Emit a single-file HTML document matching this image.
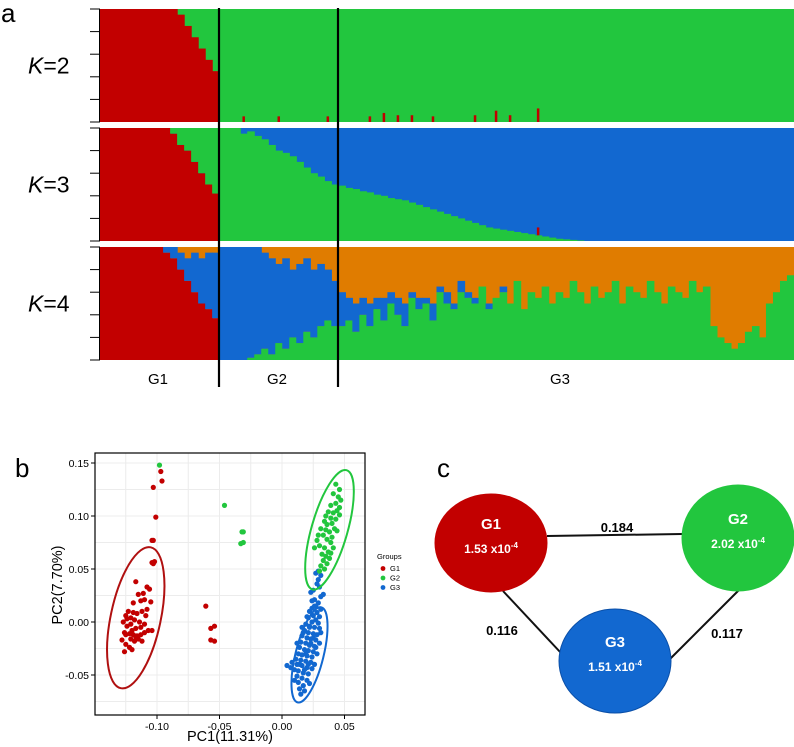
<!DOCTYPE html>
<html><head><meta charset="utf-8">
<style>
html,body{margin:0;padding:0;background:#fff;}
svg{display:block;font-family:"Liberation Sans",Arial,sans-serif;}
</style></head>
<body>
<svg id="fig" width="794" height="747" viewBox="0 0 794 747" xmlns="http://www.w3.org/2000/svg">
<g id="structure"></g>
<g id="pca"></g>
<g id="net"></g>
</svg>
<script>
// ---------- Panel a data (ancestry fractions per bar) ----------
const k2RedG1 = [1,1,1,1,1,1,1,1,1,1,1,0.95,0.85,0.75,0.65,0.55,0.45];
const k2RedG2 = [0,0,0,0.05,0,0,0,0,0.05,0,0,0,0,0,0,0.05,0];
const k2RedG3 = [0,0,0,0,0.05, 0,0.08,0,0.06,0, 0.06,0,0,0.05,0, 0,0,0,0,0.06, 0,0,0.1,0,0.06, 0,0,0,0.12,0, 0,0,0,0,0, 0,0,0,0,0, 0,0,0,0,0, 0,0,0,0,0, 0,0,0,0,0, 0,0,0,0,0, 0,0,0,0,0];
const k2Red = [...k2RedG1, ...k2RedG2, ...k2RedG3];

const k3RedG1 = [1,1,1,1,1,1,1,1,1,1,0.95,0.85,0.8,0.7,0.6,0.5,0.42];
const k3Red = [...k3RedG1, ...k2RedG2, ...k2RedG3];
const k3GreenG1 = [0,0,0,0,0,0,0,0,0,0,0.05,0.15,0.2,0.3,0.4,0.5,0.58];
const k3GreenG2 = [1,1,1,0.95,0.97,0.93,0.9,0.85,0.8,0.78,0.75,0.7,0.65,0.6,0.57,0.53,0.5];
const k3GreenG3 = [0.49,0.47,0.46,0.44,0.43, 0.41,0.4,0.38,0.37,0.36, 0.34,0.32,0.3,0.28,0.26, 0.24,0.22,0.2,0.18,0.16, 0.14,0.12,0.11,0.1,0.09, 0.08,0.07,0.06,0.05,0.04, 0.03,0.02,0.015,0.01,0.005, 0,0,0,0,0, 0,0,0,0,0, 0,0,0,0,0, 0,0,0,0,0, 0,0,0,0,0, 0,0,0,0,0];
const k3Green = [...k3GreenG1, ...k3GreenG2, ...k3GreenG3];

const k4RedG1 = [1,1,1,1,1,1,1,1,1,0.95,0.9,0.8,0.7,0.6,0.5,0.45,0.37];
const k4Red = [...k4RedG1, ...k2RedG2, ...k2RedG3];
const k4GreenG2 = [0,0,0,0,0.02,0.05,0.1,0.05,0.15,0.1,0.2,0.15,0.25,0.2,0.3,0.35,0.3];
const k4GreenG3 = [0.30,0.35,0.25,0.40,0.30, 0.45,0.35,0.50,0.40,0.30, 0.55,0.45,0.50,0.35,0.60, 0.50,0.45,0.60,0.55,0.50, 0.65,0.45,0.55,0.60,0.50, 0.70,0.45,0.60,0.55,0.65, 0.50,0.60,0.55,0.70,0.60, 0.50,0.65,0.55,0.60,0.70, 0.50,0.65,0.60,0.55,0.70, 0.60,0.50,0.65,0.60,0.55, 0.70,0.60,0.65,0.30,0.20, 0.15,0.10,0.15,0.25,0.30, 0.20,0.50,0.60,0.70,0.75];
const k4Green = [...k3GreenG1.map(()=>0), ...k4GreenG2, ...k4GreenG3];
const k4OrangeG1 = [0,0,0,0,0,0,0,0,0,0,0,0.05,0.1,0.05,0.1,0.05,0.05];
const k4OrangeG2 = [0,0,0,0,0,0,0.05,0.1,0.15,0.1,0.2,0.15,0.1,0.2,0.15,0.2,0.3];
const k4BlueG3 = [0.30,0.20,0.25,0.15,0.20, 0.10,0.20,0.10,0.15,0.20, 0.05,0.10,0.05,0.15,0.05, 0.10,0.05,0.10,0.05,0.05, 0,0.05,0,0.05,0, 0,0,0,0,0, 0,0,0,0,0, 0,0,0,0,0, 0,0,0,0,0, 0,0,0,0,0, 0,0,0,0,0, 0,0,0,0,0, 0,0,0,0,0];
const groupLabels = ["G1","G2","G3"];
const kLabels = ["2","3","4"];

// ---------- Panel b data ----------
const g1x = [-0.097,-0.096,-0.103,-0.101,-0.104,-0.103,-0.104,-0.102,-0.103,-0.061,-0.057,-0.054,-0.057,-0.054,-0.117,-0.108,-0.106,-0.111,-0.115,-0.11,-0.105,-0.108,-0.112,-0.116,-0.119,-0.123,-0.125,-0.121,-0.118,-0.114,-0.110,-0.107,-0.104,-0.113,-0.117,-0.121,-0.124,-0.126,-0.122,-0.119,-0.116,-0.113,-0.110,-0.115,-0.118,-0.121,-0.128,-0.125,-0.122,-0.126,-0.120,-0.117,-0.112,-0.124,-0.127,-0.119,-0.113,-0.109,-0.120,-0.125];
const g1y = [0.142,0.133,0.127,0.099,0.077,0.077,0.056,0.057,0.055,0.015,-0.006,-0.004,-0.017,-0.018,0.038,0.033,0.031,0.027,0.026,0.021,0.019,0.012,0.010,0.008,0.009,0.010,0.006,0.004,0.002,0.0,-0.002,-0.008,-0.008,-0.005,-0.006,-0.002,-0.004,-0.01,-0.011,-0.012,-0.013,-0.012,-0.010,-0.016,-0.018,-0.016,-0.017,-0.021,-0.024,-0.028,-0.026,-0.014,-0.018,0.003,0.0,0.018,0.020,0.006,-0.008,-0.012];
const g2x = [-0.098,-0.046,-0.032,-0.031,-0.033,-0.031,0.043,0.046,0.041,0.045,0.047,0.043,0.039,0.046,0.044,0.041,0.037,0.035,0.039,0.043,0.046,0.040,0.036,0.034,0.042,0.038,0.035,0.044,0.040,0.036,0.033,0.029,0.039,0.034,0.030,0.037,0.035,0.039,0.033,0.036,0.031,0.034,0.030,0.038,0.026,0.031,0.028,0.041,0.032];
const g2y = [0.148,0.110,0.085,0.085,0.074,0.075,0.13,0.125,0.121,0.118,0.115,0.112,0.110,0.108,0.105,0.103,0.104,0.100,0.098,0.097,0.101,0.093,0.092,0.095,0.088,0.085,0.087,0.086,0.080,0.078,0.082,0.082,0.075,0.070,0.072,0.066,0.062,0.065,0.058,0.055,0.053,0.050,0.048,0.060,0.070,0.088,0.077,0.070,0.064];
const g3x = [0.029,0.027,0.031,0.028,0.030,0.023,0.033,0.031,0.026,0.029,0.027,0.024,0.031,0.022,0.028,0.025,0.030,0.021,0.027,0.024,0.029,0.019,0.022,0.026,0.030,0.018,0.021,0.025,0.028,0.016,0.020,0.023,0.027,0.015,0.019,0.022,0.026,0.014,0.018,0.021,0.025,0.013,0.016,0.020,0.024,0.011,0.015,0.019,0.023,0.012,0.016,0.020,0.024,0.004,0.007,0.013,0.017,0.021,0.012,0.016,0.020,0.013,0.017,0.014,0.018,0.015,0.010,0.022,0.026,0.028,0.027,0.017,0.023,0.019,0.014,0.021,0.018,0.025,0.022,0.020,0.026,0.025,0.029,0.010,0.008,0.012,0.030,0.031,0.016,0.024];
const g3y = [0.048,0.046,0.044,0.036,0.033,0.028,0.026,0.024,0.021,0.018,0.015,0.013,0.012,0.010,0.009,0.006,0.005,0.004,0.002,0.000,-0.001,-0.002,-0.004,-0.005,-0.006,-0.008,-0.010,-0.011,-0.012,-0.013,-0.015,-0.016,-0.017,-0.019,-0.020,-0.022,-0.023,-0.024,-0.026,-0.027,-0.028,-0.030,-0.031,-0.032,-0.033,-0.035,-0.036,-0.037,-0.038,-0.040,-0.041,-0.043,-0.044,-0.041,-0.043,-0.046,-0.048,-0.049,-0.051,-0.053,-0.055,-0.057,-0.060,-0.063,-0.065,-0.068,-0.055,-0.058,-0.040,-0.030,-0.024,-0.010,-0.020,-0.030,-0.040,-0.040,-0.045,-0.015,-0.005,0.005,0.015,0.030,0.040,-0.045,-0.038,-0.020,-0.020,-0.010,-0.005,0.020];
const xTicks = [-0.10,-0.05,0.00,0.05];
const xTickLabels = ["-0.10","-0.05","0.00","0.05"];
const yTicks = [-0.05,0.00,0.05,0.10,0.15];
const yTickLabels = ["-0.05","0.00","0.05","0.10","0.15"];
const ellipseCx = [-0.117,0.038,0.022];
const ellipseCy = [0.004,0.087,-0.031];

// ---------- Panel c data ----------
const nodeNames = ["G1","G2","G3"];
const nodeValues = ["1.53","2.02","1.51"];
const edgeValues = ["0.184","0.116","0.117"];

const NS = "http://www.w3.org/2000/svg";
function mk(parent, tag, attrs, text){
  const e = document.createElementNS(NS, tag);
  for (const k in attrs) e.setAttribute(k, attrs[k]);
  if (text !== undefined) e.textContent = text;
  parent.appendChild(e);
  return e;
}
const RED="#c20000", GREEN="#22c63e", BLUE="#1268d0", ORANGE="#e07c00";

// ===== Panel a =====
const sa = document.getElementById('structure');
const L = 100, R = 794;
const panels = [{top:9,bot:122},{top:128,bot:241},{top:247,bot:360}];
const n = k2Red.length;
const bw = (R-L)/n;
function xb(i){ return L + i*bw; }
function drawStack(pi, comps){
  const p = panels[pi], h = p.bot-p.top;
  for (let i=0;i<n;i++){
    let y = p.bot;
    for (const [arr,col] of comps){
      const f = Math.max(0, arr[i]);
      if (f<=0) continue;
      const hh = f*h;
      const thin = f < 0.2 && col===RED;
      const w = thin ? 2.5 : bw+0.6;
      const xx = thin ? xb(i)+bw/2-1.25 : xb(i);
      const r = mk(sa,'rect',{x:xx.toFixed(2),y:(y-hh).toFixed(2),width:w.toFixed(2),height:hh.toFixed(2),fill:col});
      
      
      if (!thin) y -= hh;
    }
  }
}
mk(sa,'rect',{x:L,y:9,width:R-L,height:113,fill:GREEN,});
mk(sa,'rect',{x:L,y:128,width:R-L,height:113,fill:BLUE,});
mk(sa,'rect',{x:L,y:247,width:R-L,height:113,fill:ORANGE,});
drawStack(0, [[k2Red,RED]]);
drawStack(1, [[k3Red,RED],[k3Green.map((g,i)=>Math.min(g,1-k3Red[i])),GREEN]]);
const k4Blue = k4Red.map((r,i)=>{
  if (i<17) return 1-r-k4OrangeG1[i];
  if (i<34) return 1-k4GreenG2[i-17]-k4OrangeG2[i-17];
  return k4BlueG3[i-34];
});
drawStack(2, [[k4Red,RED],[k4Green,GREEN],[k4Blue,BLUE]]);
panels.forEach((p,pi)=>{
  for (let t=0;t<=5;t++){
    const y = p.top + t*(p.bot-p.top)/5;
    mk(sa,'line',{x1:90,x2:100,y1:y,y2:y,stroke:'#000','stroke-width':1,});
  }
  mk(sa,'line',{x1:99.5,x2:99.5,y1:p.top,y2:p.bot,stroke:'#000','stroke-width':1,});
  const t = mk(sa,'text',{x:28,y:(p.top+p.bot)/2+8,'font-size':23,fill:'#000',});
  mk(t,'tspan',{'font-style':'italic'},'K');
  mk(t,'tspan',{},'='+kLabels[pi]);
});
[219,338].forEach(x=>mk(sa,'line',{x1:x,x2:x,y1:8,y2:387,stroke:'#000','stroke-width':2.2,}));
[158,277,560].forEach((x,i)=>mk(sa,'text',{x:x,y:384,'font-size':15,'text-anchor':'middle',},groupLabels[i]));
mk(sa,'text',{x:1,y:22,'font-size':26,},'a');

// ===== Panel b =====
const sb = document.getElementById('pca');
const PX0=95, PX1=365, PY0=453, PY1=715;
function sx(v){ return 282 + v*1250; }
function sy(v){ return 622 - v*1060; }
mk(sb,'rect',{x:PX0,y:PY0,width:PX1-PX0,height:PY1-PY0,fill:'#fff',});
for (let v=-0.15; v<=0.071; v+=0.025){
  const x=sx(v); if (x<PX0||x>PX1) continue;
  mk(sb,'line',{x1:x,x2:x,y1:PY0,y2:PY1,stroke:'#ececec','stroke-width':1,});
}
for (let v=-0.1; v<=0.161; v+=0.025){
  const y=sy(v); if (y<PY0||y>PY1) continue;
  mk(sb,'line',{x1:PX0,x2:PX1,y1:y,y2:y,stroke:'#ececec','stroke-width':1,});
}
function pts(xs,ys,col,name){
  xs.forEach((x,i)=>{
    const c = mk(sb,'circle',{cx:sx(x).toFixed(1),cy:sy(ys[i]).toFixed(1),r:2.6,fill:col});
    
    
  });
}
pts(g3x,g3y,BLUE,'pca-point-g3');
pts(g1x,g1y,RED,'pca-point-g1');
pts(g2x,g2y,GREEN,'pca-point-g2');
const ellRx=[25,18,14], ellRy=[72,62,49], ellRot=[12,16,14], ellCol=["#b01010",GREEN,BLUE];
ellipseCx.forEach((cx,i)=>{
  const X=sx(cx), Y=sy(ellipseCy[i]);
  mk(sb,'ellipse',{cx:X,cy:Y,rx:ellRx[i],ry:ellRy[i],transform:`rotate(${ellRot[i]} ${X} ${Y})`,fill:'none',stroke:ellCol[i],'stroke-width':2,});
});
mk(sb,'rect',{x:PX0,y:PY0,width:PX1-PX0,height:PY1-PY0,fill:'none',stroke:'#000','stroke-width':1.2,});
xTicks.forEach((v,i)=>{
  mk(sb,'line',{x1:sx(v),x2:sx(v),y1:PY1,y2:PY1+4,stroke:'#000',});
  mk(sb,'text',{x:sx(v),y:PY1+15,'font-size':10.5,'text-anchor':'middle',},xTickLabels[i]);
});
yTicks.forEach((v,i)=>{
  mk(sb,'line',{x1:PX0-4,x2:PX0,y1:sy(v),y2:sy(v),stroke:'#000',});
  mk(sb,'text',{x:PX0-6,y:sy(v)+4,'font-size':10.5,'text-anchor':'end',},yTickLabels[i]);
});
mk(sb,'text',{x:230,y:741,'font-size':14.5,'text-anchor':'middle',},'PC1(11.31%)');
mk(sb,'text',{x:62,y:585,'font-size':14.5,'text-anchor':'middle',transform:'rotate(-90 62 585)',},'PC2(7.70%)');
mk(sb,'text',{x:377,y:559,'font-size':7.5,},'Groups');
[RED,GREEN,BLUE].forEach((c,i)=>{
  const y = 571+i*9.5;
  mk(sb,'circle',{cx:383,cy:y-2.5,r:2.4,fill:c,});
  mk(sb,'text',{x:390,y:y,'font-size':7.5,},nodeNames[i]);
});
mk(sb,'text',{x:15,y:477,'font-size':26,},'b');

// ===== Panel c =====
const sc = document.getElementById('net');
const ncx=[491,738,615], ncy=[543,538,661], nrx=56, nry=[49,53,52], ncol=[RED,GREEN,BLUE];
mk(sc,'line',{x1:547,y1:536,x2:682,y2:534,stroke:'#111','stroke-width':2,});
mk(sc,'line',{x1:503,y1:591,x2:561,y2:653,stroke:'#111','stroke-width':2,});
mk(sc,'line',{x1:739,y1:590,x2:670,y2:659,stroke:'#111','stroke-width':2,});
ncx.forEach((x,i)=>{
  mk(sc,'ellipse',{cx:x,cy:ncy[i],rx:nrx,ry:nry[i],fill:ncol[i],stroke:i==2?'#0a4fa8':ncol[i],'stroke-width':1,});
  mk(sc,'text',{x:x,y:ncy[i]-14,'font-size':15,'font-weight':'bold',fill:'#fff','text-anchor':'middle',},nodeNames[i]);
  const t = mk(sc,'text',{x:x,y:ncy[i]+10,'font-size':12,'font-weight':'bold',fill:'#fff','text-anchor':'middle',});
  mk(t,'tspan',{},nodeValues[i]+' x10');
  mk(t,'tspan',{'font-size':8,dy:-5},'-4');
});
const ex=[617,502,727], ey=[532,635,638];
edgeValues.forEach((v,i)=>mk(sc,'text',{x:ex[i],y:ey[i],'font-size':13,'font-weight':'bold','text-anchor':'middle',},v));
mk(sc,'text',{x:437,y:477,'font-size':26,},'c');
</script>
</body></html>
